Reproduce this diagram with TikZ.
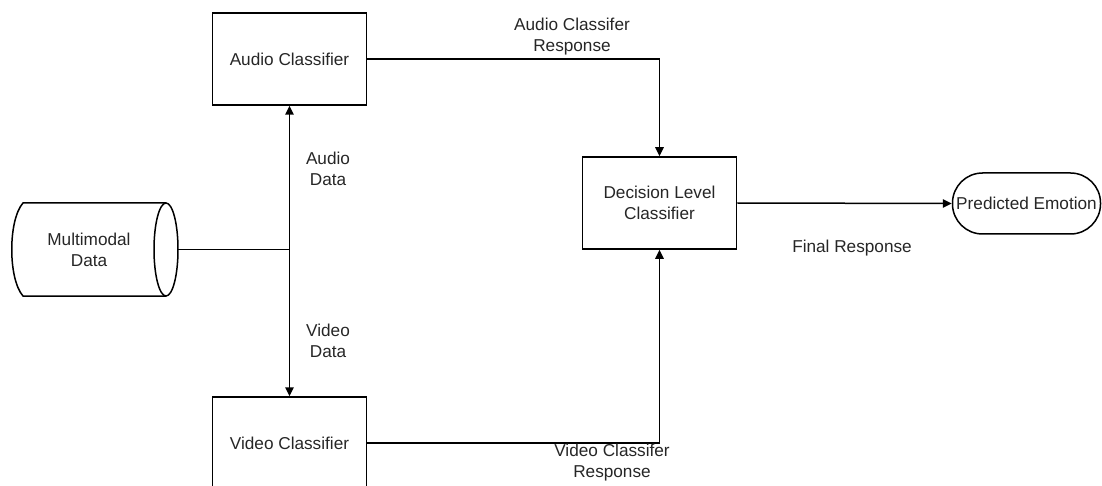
\documentclass[tikz,border=0pt]{standalone}
\usepackage{fontspec}
\setmainfont{Liberation Sans}
\usetikzlibrary{arrows.meta}
\begin{document}
\begin{tikzpicture}[x=1pt,y=-1pt,
  font=\fontsize{17.2}{21}\selectfont,
  ln/.style={line width=1.5pt},
  box/.style={draw, ln, minimum width=154pt, minimum height=92pt, inner sep=0pt, align=center, text=black!85},
  lbl/.style={align=center, inner sep=0pt, text=black!85},
  arr/.style={ln, -{Triangle[length=9pt,width=8.5pt]}}]
\useasboundingbox (0,0) rectangle (1102,486);
\clip (0,0) rectangle (1102,486);
% multimodal data (direct data shape)
\node (mm) [minimum width=154pt, minimum height=93pt, inner sep=0pt, align=center, text=black!85] at (89,249.5) {Multimodal\\Data};
\draw[ln] (166,203) -- (23,203) .. controls (8,220) and (8,279) .. (23,296) -- (166,296);
\draw[ln] (166,249.5) ellipse [x radius=12, y radius=46.5];
% boxes
\node (audio) [box] at (289.5,59) {Audio Classifier};
\node (video) [box] at (289.5,443) {Video Classifier};
\node (dec) [box] at (659.5,203) {Decision Level\\Classifier};
\node (pe) [draw, ln, rounded corners=30pt, minimum width=148pt, minimum height=61pt, inner sep=0pt, text=black!85] at (1026.5,203.5) {Predicted Emotion};
% connectors
\coordinate (j) at (289.5,249.5);
\draw[ln] ([xshift=12pt]mm.east) -- (j);
\draw[arr] (j) -- (audio.south);
\draw[arr] (j) -- (video.north);
\draw[arr] (audio.east) -| (dec.north);
\draw[arr] (video.east) -| (dec.south);
\draw[arr] (dec.east) -- (pe.west);
% labels
\node (l1) [lbl] at (572,37) {Audio Classifer\\Response};
\node (l2) [lbl] at (328,169) {Audio\\Data};
\node (l3) [lbl] at (328,341) {Video\\Data};
\node (l4) [lbl] at (612,463) {Video Classifer\\Response};
\node (l5) [lbl] at (852,248) {Final Response};
\end{tikzpicture}
\end{document}
